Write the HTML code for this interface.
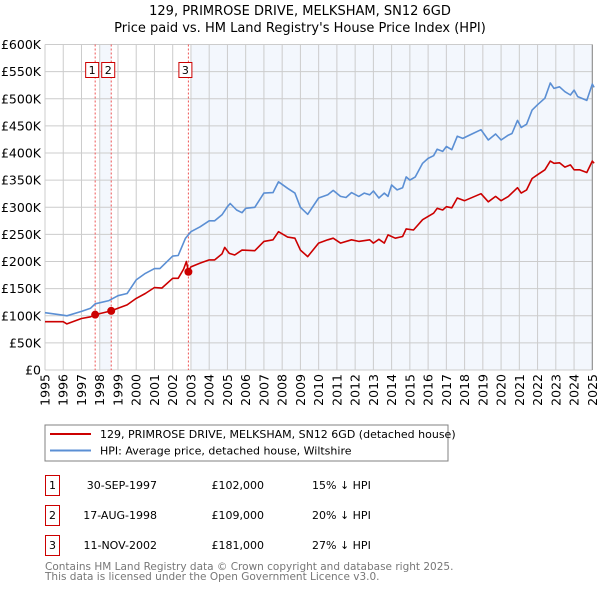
<!DOCTYPE html>
<html><head><meta charset="utf-8"><style>
body{margin:0;background:#fff;}
svg{display:block;font-family:"DejaVu Sans","Liberation Sans",sans-serif;}
</style></head><body>
<svg id="chart" width="600" height="590" viewBox="0 0 600 590">
<text x="300" y="15" text-anchor="middle" font-size="13">129, PRIMROSE DRIVE, MELKSHAM, SN12 6GD</text>
<text x="300" y="32" text-anchor="middle" font-size="13">Price paid vs. HM Land Registry's House Price Index (HPI)</text>
<g id="plot"></g>
<rect x="45" y="425" width="403" height="36" fill="#fff" stroke="#808080"/>
<line x1="50" y1="434" x2="91" y2="434" stroke="#cc0000" stroke-width="2"/>
<text x="100" y="438" font-size="11">129, PRIMROSE DRIVE, MELKSHAM, SN12 6GD (detached house)</text>
<line x1="50" y1="450.5" x2="91" y2="450.5" stroke="#5b8fd4" stroke-width="2"/>
<text x="100" y="454.5" font-size="11">HPI: Average price, detached house, Wiltshire</text>
<g font-size="11">
<rect x="45.5" y="475.5" width="14" height="20" fill="none" stroke="#cc0000"/>
<text x="52.5" y="489" text-anchor="middle">1</text>
<text x="157" y="489" text-anchor="end">30-SEP-1997</text>
<text x="264" y="489" text-anchor="end">£102,000</text>
<text x="312" y="489">15% ↓ HPI</text>
<rect x="45.5" y="505.5" width="14" height="20" fill="none" stroke="#cc0000"/>
<text x="52.5" y="519" text-anchor="middle">2</text>
<text x="157" y="519" text-anchor="end">17-AUG-1998</text>
<text x="264" y="519" text-anchor="end">£109,000</text>
<text x="312" y="519">20% ↓ HPI</text>
<rect x="45.5" y="535.5" width="14" height="20" fill="none" stroke="#cc0000"/>
<text x="52.5" y="549" text-anchor="middle">3</text>
<text x="157" y="549" text-anchor="end">11-NOV-2002</text>
<text x="264" y="549" text-anchor="end">£181,000</text>
<text x="312" y="549">27% ↓ HPI</text>
</g>
<text x="45" y="570" font-size="10.5" fill="#777">Contains HM Land Registry data © Crown copyright and database right 2025.</text>
<text x="45" y="580" font-size="10.5" fill="#777">This data is licensed under the Open Government Licence v3.0.</text>
</svg>
<script>
const yTicks=[0,50000,100000,150000,200000,250000,300000,350000,400000,450000,500000,550000,600000];
const yTickLabels=["£0","£50K","£100K","£150K","£200K","£250K","£300K","£350K","£400K","£450K","£500K","£550K","£600K"];
const xYears=[1995,1996,1997,1998,1999,2000,2001,2002,2003,2004,2005,2006,2007,2008,2009,2010,2011,2012,2013,2014,2015,2016,2017,2018,2019,2020,2021,2022,2023,2024,2025];
const hpiT=[1995,1996,1996.2,1997,1997.5,1997.75,1998.5,1999,1999.5,2000,2000.5,2001,2001.3,2002,2002.3,2002.7,2003,2003.5,2004,2004.3,2004.7,2005,2005.15,2005.5,2005.8,2006,2006.5,2007,2007.5,2007.8,2008.3,2008.7,2009,2009.4,2010,2010.5,2010.8,2011.2,2011.5,2011.8,2012.2,2012.5,2012.8,2013,2013.3,2013.6,2013.8,2014,2014.3,2014.6,2014.8,2015,2015.3,2015.7,2016,2016.3,2016.5,2016.8,2017,2017.3,2017.6,2017.9,2018.4,2018.9,2019.3,2019.7,2020,2020.4,2020.6,2020.9,2021.1,2021.4,2021.7,2022,2022.4,2022.7,2022.9,2023.2,2023.5,2023.8,2024,2024.2,2024.7,2025,2025.1];
const hpiV=[105.7,101,100,108,114,122,128,137,141,166,178,187,187,210,211,243,255,264,275,275,286,301,307,295,290,298,300,326,327,347,335,326,300,287,317,323,331,320,318,327,320,326,323,330,317,326,320,341,332,336,356,350,356,381,390,395,407,403,412,406,431,427,435,443,424,435,424,433,436,460,447,453,479,489,501,529,519,522,513,507,516,504,497,527,521];
const propT=[1995,1996,1996.2,1997,1997.5,1997.75,1998,1998.63,1999,1999.5,2000,2000.5,2001,2001.4,2002,2002.3,2002.6,2002.75,2002.86,2003,2003.5,2004,2004.3,2004.7,2004.85,2005.1,2005.4,2005.8,2006.5,2007,2007.5,2007.8,2008.3,2008.7,2009,2009.4,2010,2010.5,2010.8,2011.2,2011.8,2012.2,2012.8,2013,2013.3,2013.6,2013.8,2014.2,2014.6,2014.8,2015.2,2015.7,2016.3,2016.5,2016.8,2017,2017.3,2017.6,2018,2018.9,2019.3,2019.7,2020,2020.4,2020.9,2021.1,2021.4,2021.7,2022,2022.4,2022.7,2022.9,2023.2,2023.5,2023.8,2024,2024.3,2024.7,2025,2025.1];
const propV=[89,89,85,95,98,102,104,109,114,120,132,141,152,151,169,169,186,200,181,190,197,203,203,214,226,215,212,221,220,237,240,255,245,243,221,209,234,240,243,234,240,237,240,234,241,234,249,243,246,260,258,277,289,298,295,301,299,317,312,325,310,320,312,320,336,326,332,353,360,369,385,381,382,374,378,369,369,364,385,381];
const saleT=[1997.75,1998.63,2002.86];
const saleV=[102000,109000,181000];
const saleLabels=["1","2","3"];

const L=45,R=592.3,T=44.5,B=370;
const xS=t=>L+(t-1995)/30*(R-L);
const yS=v=>B-v/600000*(B-T);
const NS="http://www.w3.org/2000/svg";
const g=document.getElementById('plot');
function mk(tag,attrs,parent){const e=document.createElementNS(NS,tag);for(const k in attrs)e.setAttribute(k,attrs[k]);(parent||g).appendChild(e);return e;}
mk('rect',{x:L,y:T,width:R-L,height:B-T,fill:'#fff'});
const sh1=mk('rect',{x:xS(1998),y:T,width:xS(saleT[1])-xS(1998),height:B-T,fill:'#eef3fc',opacity:0.7});


const sh2=mk('rect',{x:xS(2003),y:T,width:R-xS(2003),height:B-T,fill:'#eef3fc',opacity:0.7});


yTicks.forEach((v,i)=>{
  const ln=mk('line',{x1:L,x2:R,y1:yS(v),y2:yS(v),stroke:'#cccccc','stroke-width':1});
  
  
  const tx=mk('text',{x:L-4,y:yS(v)+4.5,'text-anchor':'end','font-size':12.5});
  tx.textContent=yTickLabels[i];
  
  
});
xYears.forEach(yr=>{
  const ln=mk('line',{x1:xS(yr),x2:xS(yr),y1:T,y2:B,stroke:'#cccccc','stroke-width':1});
  
  
  const tx=mk('text',{x:0,y:0,'text-anchor':'end','font-size':12.5,transform:`translate(${xS(yr)+4.5},${B+4}) rotate(-90)`});
  tx.textContent=yr;
  
  
});
mk('line',{x1:R,x2:R,y1:T,y2:B,stroke:'#888','stroke-width':1});
saleT.forEach((t,i)=>{
  const ln=mk('line',{x1:xS(t),x2:xS(t),y1:T,y2:B,stroke:'#ee5555','stroke-width':1,'stroke-dasharray':'2,2'});
  
  
});
function path(ts,vs,col,name){
  const d=ts.map((t,i)=>(i?'L':'M')+xS(t).toFixed(1)+','+yS(vs[i]*1000).toFixed(1)).join('');
  const p=mk('path',{d:d,fill:'none',stroke:col,'stroke-width':1.6,'stroke-linejoin':'round'});
  
  
}
path(hpiT,hpiV,'#5b8fd4','hpi-line');
path(propT,propV,'#cc0000','property-line');
saleT.forEach((t,i)=>{
  const c=mk('circle',{cx:xS(t),cy:yS(saleV[i]),r:4,fill:'#cc0000'});
  
  
  const bx=xS(t)-3;
  const r=mk('rect',{x:bx-6.5,y:62.5,width:13,height:15,fill:'#fff',stroke:'#cc0000'});
  
  
  const tx=mk('text',{x:bx,y:74,'text-anchor':'middle','font-size':11});
  tx.textContent=saleLabels[i];
  
  
});
</script>
</body></html>
